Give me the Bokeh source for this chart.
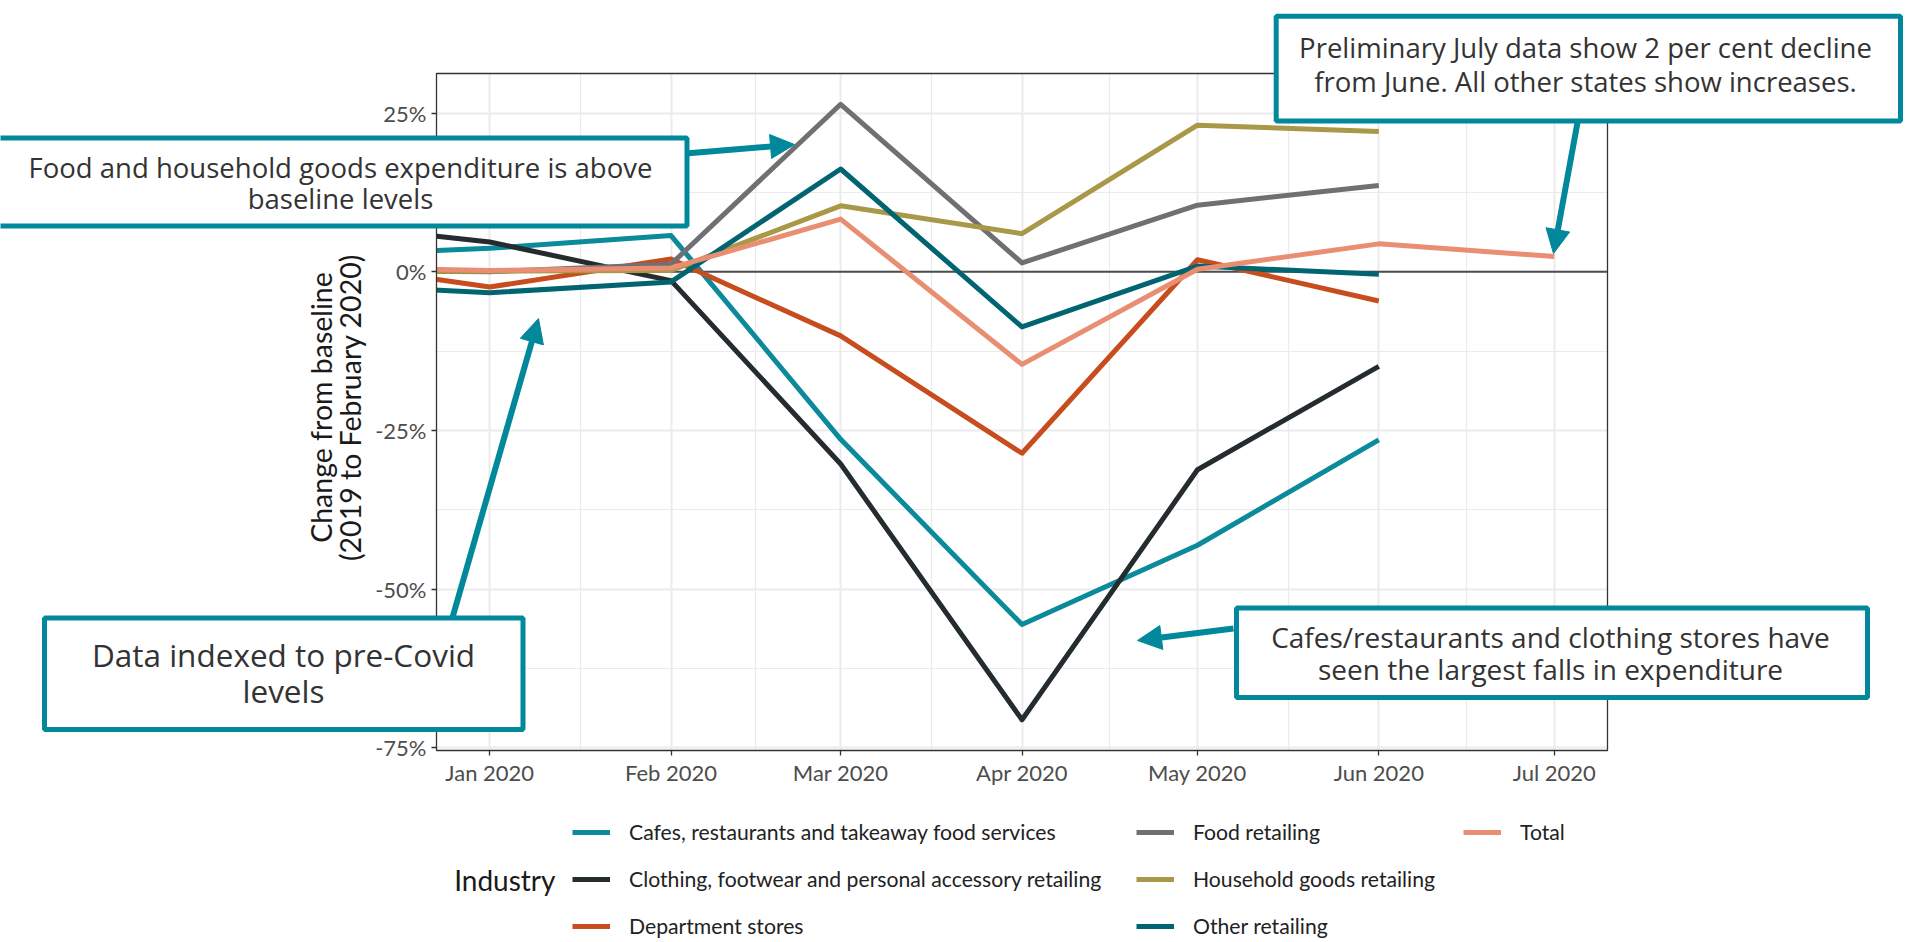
import numpy as np
import pandas as pd
from bokeh.plotting import figure
from bokeh.models import (Range1d, FixedTicker, PrintfTickFormatter, DatetimeTickFormatter,
                          Label, BoxAnnotation, Arrow, NormalHead, Legend, LegendItem)
from bokeh.embed import file_html
from bokeh.resources import INLINE

# ---------------- data ----------------
nan = float("nan")
months = ["2019-12-01", "2020-01-01", "2020-02-01", "2020-03-01",
          "2020-04-01", "2020-05-01", "2020-06-01", "2020-07-01"]
cafes      = [2.5, 3.7, 5.7, -26.4, -55.6, -43.1, -26.5, nan]
clothing   = [7.8, 4.7, -1.4, -30.3, -70.6, -31.2, -14.9, nan]
department = [1.7, -2.4, 2.0, -10.1, -28.6, 1.9, -4.6, nan]
food       = [0.2, 0.0, 1.2, 26.4, 1.4, 10.5, 13.6, nan]
household  = [0.0, 0.1, 0.2, 10.4, 6.0, 23.1, 22.1, nan]
other      = [-1.9, -3.3, -1.6, 16.2, -8.7, 0.9, -0.4, nan]
total      = [0.8, 0.2, 0.6, 8.3, -14.6, 0.4, 4.4, 2.4]

series_names = ["Cafes, restaurants and takeaway food services",
                "Clothing, footwear and personal accessory retailing",
                "Department stores",
                "Food retailing",
                "Household goods retailing",
                "Other retailing",
                "Total"]
series_values = [cafes, clothing, department, food, household, other, total]
series_colors = ["#0A8A9A", "#242C30", "#C84D1E", "#707074", "#A89848", "#006570", "#E98E72"]

y_ticks = [-75, -50, -25, 0, 25]
y_minor = [-62.5, -37.5, -12.5, 12.5]
x_tick_months = ["2020-01-01", "2020-02-01", "2020-03-01", "2020-04-01",
                 "2020-05-01", "2020-06-01", "2020-07-01"]

TEAL = "#01889A"

# ---------------- geometry (canvas pixels) ----------------
W, H = 1911, 942
FL, FR, FT, FB = 436, 1607, 73, 750     # the chart panel inside the canvas

epoch = pd.Timestamp("1970-01-01")
one_ms = pd.Timedelta(milliseconds=1)
ms = np.asarray((pd.to_datetime(months) - epoch) / one_ms, dtype=float)
tick_ms = np.asarray((pd.to_datetime(x_tick_months) - epoch) / one_ms, dtype=float)
minor_ms = list((tick_ms[:-1] + tick_ms[1:]) / 2)

# panel limits: data range with 5 % expansion
x_lo, x_hi = tick_ms[0], tick_ms[-1]
xpad = 0.05 * (x_hi - x_lo)
xs, xe = x_lo - xpad, x_hi + xpad
vis_vals = [v for s in series_values for v in s[1:] if not np.isnan(v)]
y_lo, y_hi = min(vis_vals), max(vis_vals)
ypad = 0.05 * (y_hi - y_lo)
ys, ye = y_lo - ypad, y_hi + ypad


def dx(sx):
    return xs + (sx - FL) / (FR - FL) * (xe - xs)


def dy(sy):
    return ye - (sy - FT) / (FB - FT) * (ye - ys)


p = figure(width=W, height=H, x_axis_type="datetime",
           x_range=Range1d(dx(0), dx(W)), y_range=Range1d(dy(H), dy(0)),
           output_backend="svg", toolbar_location=None,
           min_border=0, min_border_left=0, min_border_right=0,
           min_border_top=0, min_border_bottom=0)
p.background_fill_color = "white"
p.border_fill_color = "white"
p.outline_line_color = None

# axes, fixed on the panel edges
p.xaxis.ticker = FixedTicker(ticks=list(tick_ms), minor_ticks=minor_ms)
p.xaxis.formatter = DatetimeTickFormatter(days="%b %Y", months="%b %Y", years="%b %Y")
p.yaxis.ticker = FixedTicker(ticks=y_ticks, minor_ticks=y_minor)
p.yaxis.formatter = PrintfTickFormatter(format="%d%%")
p.xaxis.fixed_location = ys
p.yaxis.fixed_location = xs
for ax in (p.xaxis[0], p.yaxis[0]):
    ax.axis_line_color = None
    ax.major_tick_line_color = "#333333"
    ax.major_tick_line_width = 1.3
    ax.major_tick_out = 5
    ax.major_tick_in = 0
    ax.minor_tick_line_color = None
    ax.major_label_text_font = "Lato"
    ax.major_label_text_font_size = "22px"
    ax.major_label_text_color = "#4D4D4D"
p.xaxis.major_label_standoff = 3
p.yaxis.major_label_standoff = 5

for g in (p.xgrid[0], p.ygrid[0]):
    g.grid_line_color = "#EBEBEB"
    g.grid_line_width = 2
    g.minor_grid_line_color = "#EBEBEB"
    g.minor_grid_line_width = 1.2

# zero reference line
p.segment(x0=[xs], x1=[xe], y0=[0], y1=[0], line_color="#4D4D4D", line_width=2)

renderers = []
for name, vals, col in zip(series_names, series_values, series_colors):
    r = p.line(ms, vals, line_color=col, line_width=5, line_join="round")
    renderers.append(r)

# white masks outside the panel (clip lines and grid to the panel)
cx0, cx1, cyb, cyt = dx(0) - 1e9, dx(W) + 1e9, dy(H) - 100, dy(0) + 100
p.quad(left=[cx0, xe, xs, xs], right=[xs, cx1, xe, xe],
       bottom=[cyb, cyb, ye, cyb], top=[cyt, cyt, cyt, ys],
       fill_color="white", line_color=None)
# panel border
p.quad(left=[xs], right=[xe], bottom=[ys], top=[ye], fill_alpha=0,
       line_color="#333333", line_width=1.3)

# axis title
for txt, bx in (("Change from baseline", 320), ("(2019 to February 2020)", 349)):
    p.add_layout(Label(x=dx(bx), y=dy(407), text=txt, angle=np.pi / 2,
                       text_align="center", text_baseline="alphabetic",
                       text_font="Lato", text_font_size="28.5px",
                       text_color="#1A1A1A"))

# legend (three columns)
ITEM_H, GAP = 30, 17


def make_legend(idx, left, top):
    items = [LegendItem(label=series_names[i], renderers=[renderers[i]]) for i in idx]
    n = len(idx)
    height = n * ITEM_H + (n - 1) * GAP
    lg = Legend(items=items, location=(left, H - (top + height)), orientation="vertical",
                label_text_font="Lato", label_text_font_size="21.2px",
                label_text_color="#222222", glyph_width=38, glyph_height=ITEM_H,
                label_height=ITEM_H, label_standoff=19, spacing=GAP, padding=0,
                margin=0, border_line_color=None, background_fill_alpha=0)
    p.add_layout(lg)


make_legend([0, 1, 2], 572, 817)
make_legend([3, 4, 5], 1136, 817)
make_legend([6], 1463, 817)

p.add_layout(Label(x=dx(555), y=dy(879), text="Industry", text_align="right",
                   text_baseline="middle", text_font="Lato",
                   text_font_size="28px", text_color="#1A1A1A"))

# arrows
arrows = [((685, 153), (794, 144)),
          ((1577, 122), (1553, 253)),
          ((452, 617), (538, 318)),
          ((1233, 628), (1137, 640))]
for (x0, y0), (x1, y1) in arrows:
    p.add_layout(Arrow(end=NormalHead(size=24, fill_color=TEAL, line_color=TEAL),
                       x_start=dx(x0), y_start=dy(y0), x_end=dx(x1), y_end=dy(y1),
                       line_color=TEAL, line_width=6))

# annotation boxes
boxes = [(-20, 686.5, 137.5, 225.5),
         (1275.7, 1900, 15.8, 120.5),
         (44, 522.5, 617.5, 729),
         (1236, 1867, 607.5, 697)]
for l, r, t, b in boxes:
    p.add_layout(BoxAnnotation(left=dx(l), right=dx(r), top=dy(t), bottom=dy(b),
                               fill_color="white", fill_alpha=1,
                               line_color=TEAL, line_width=5, line_alpha=1))

notes = [("Food and household goods expenditure is above", 340, 167, "27.5px"),
         ("baseline levels", 340, 198, "27.5px"),
         ("Preliminary July data show 2 per cent decline", 1585, 47, "27.5px"),
         ("from June. All other states show increases.", 1585, 81, "27.5px"),
         ("Data indexed to pre-Covid", 283, 654, "31.5px"),
         ("levels", 283, 690, "31.5px"),
         ("Cafes/restaurants and clothing stores have", 1550, 636, "28px"),
         ("seen the largest falls in expenditure", 1550, 668, "28px")]
for txt, sx, sy, fs in notes:
    p.add_layout(Label(x=dx(sx), y=dy(sy), text=txt, text_align="center",
                       text_baseline="middle", text_font="Open Sans",
                       text_font_size=fs, text_color="#333333"))

open("out.html", "w").write(file_html(p, INLINE))
